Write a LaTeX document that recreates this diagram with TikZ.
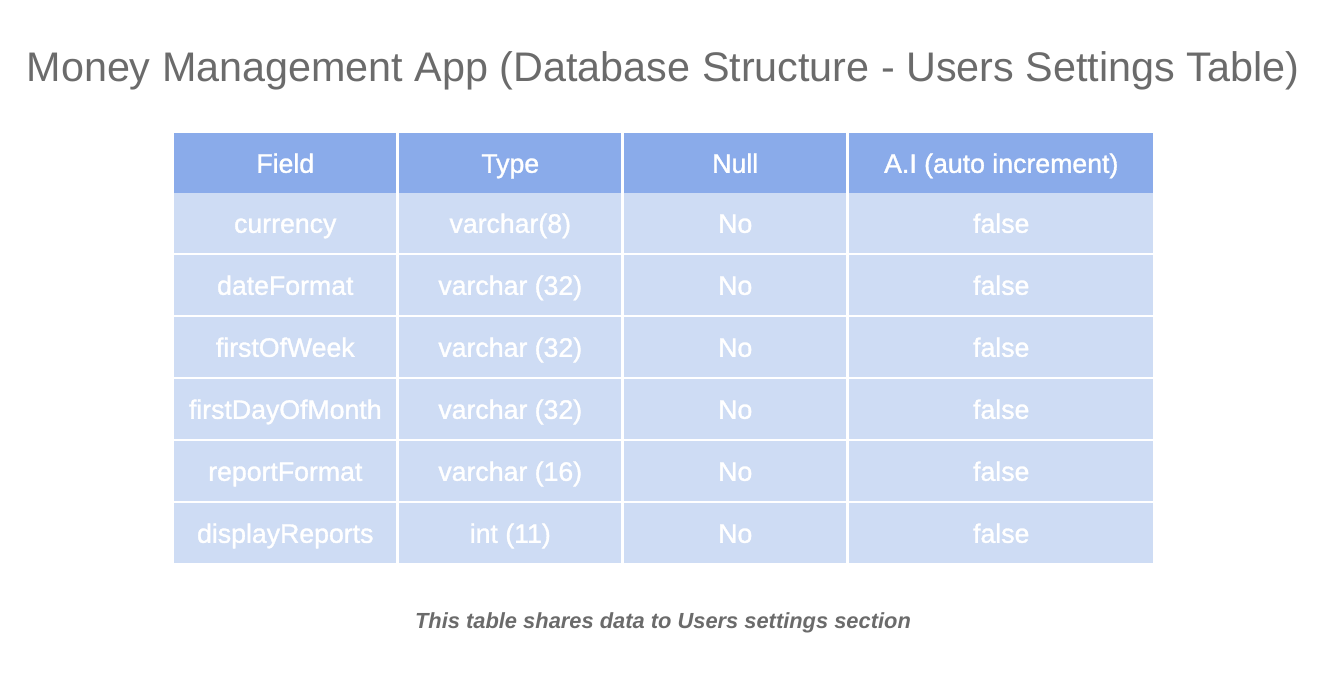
\documentclass[tikz,border=0pt]{standalone}
\usepackage{fontspec}
\setmainfont{Liberation Sans}
\newfontfamily\cellfont[FakeBold=1.3]{Liberation Sans}
\definecolor{headblue}{HTML}{8AABEA}
\definecolor{rowblue}{HTML}{CEDCF4}
\definecolor{titlegray}{HTML}{6B6B6B}
\tikzset{
  cellbase/.style={rectangle, inner sep=0pt, anchor=north west, text=white,
    font=\cellfont\fontsize{20}{24}\selectfont, text height=14.3pt, text depth=0pt,
    minimum height=45pt},
  headcell/.style={cellbase, fill=headblue},
  rowcell/.style={cellbase, fill=rowblue},
}
\begin{document}
\begin{tikzpicture}[x=0.75pt,y=-0.75pt]
\useasboundingbox (0,0) rectangle (1325,681);
\node[font=\fontsize{31}{37}\selectfont, text=titlegray, anchor=base] (title) at (663,81.7)
  {Money Management App (Database Structure - Users Settings Table)};
% column left edges and widths (px)
\def\cA{174}\def\cB{399}\def\cC{624}\def\cD{849}
\foreach \x/\w/\t/\n in {\cA/222/Field/1, \cB/222/Type/2, \cC/222/Null/3, \cD/304/A.I (auto increment)/4}
  \node[headcell, minimum width=\w*0.75pt] (h\n) at (\x,133) {\t};
\foreach \r/\f/\ty in {1/currency/varchar(8), 2/dateFormat/varchar (32), 3/firstOfWeek/varchar (32),
    4/firstDayOfMonth/varchar (32), 5/reportFormat/varchar (16), 6/displayReports/int (11)} {
  \pgfmathsetmacro{\top}{193+62*(\r-1)}
  \node[rowcell, minimum width=166.5pt] (r\r c1) at (\cA,\top) {\f};
  \node[rowcell, minimum width=166.5pt] (r\r c2) at (\cB,\top) {\ty};
  \node[rowcell, minimum width=166.5pt] (r\r c3) at (\cC,\top) {No};
  \node[rowcell, minimum width=228pt] (r\r c4) at (\cD,\top) {false};
}
\node[font=\fontsize{16.4}{20}\selectfont\bfseries\itshape, text=titlegray, anchor=base] (caption) at (663,628)
  {This table shares data to Users settings section};
\end{tikzpicture}
\end{document}
